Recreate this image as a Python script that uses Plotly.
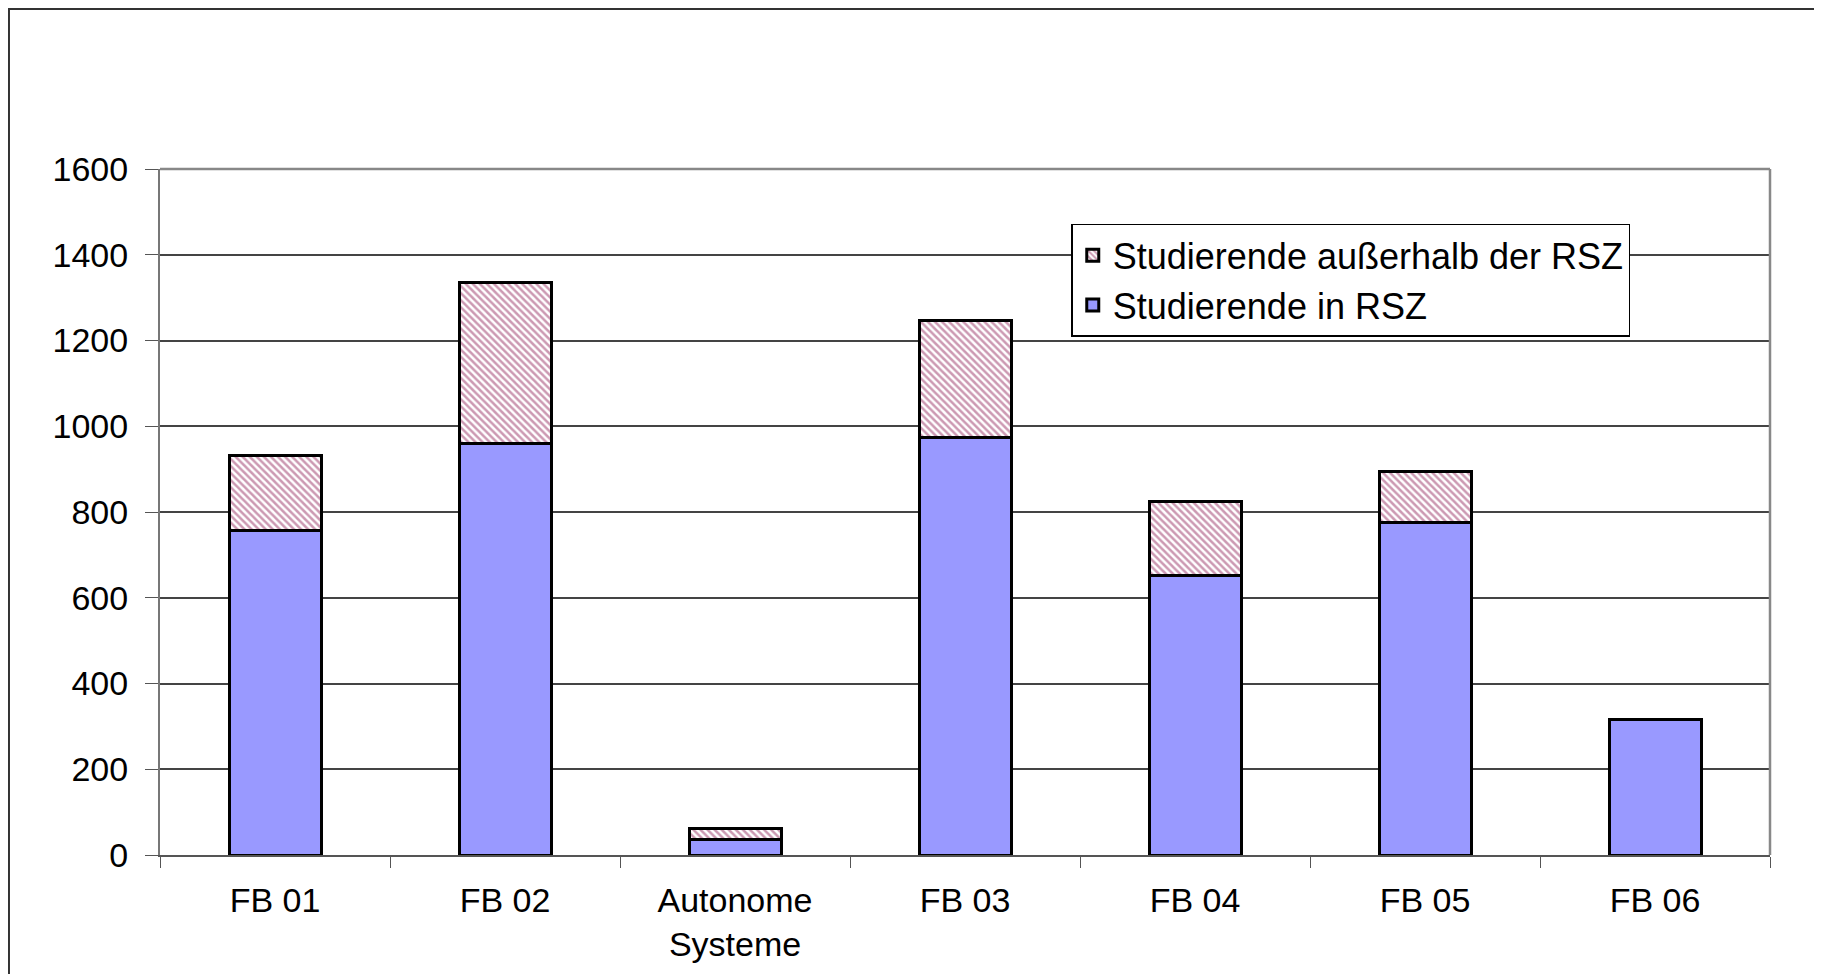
import plotly.graph_objects as go

categories = ["FB 01", "FB 02", "Autonome<br>Systeme", "FB 03", "FB 04", "FB 05", "FB 06"]
in_rsz = [758, 960, 35, 973, 651, 775, 316]
outside_rsz = [173, 376, 26, 274, 173, 120, 0]

y_ticks = [0, 200, 400, 600, 800, 1000, 1200, 1400, 1600]

fig = go.Figure()

fig.add_trace(go.Bar(
    x=categories, y=in_rsz,
    name="Studierende in RSZ",
    marker=dict(color="#9999FF", line=dict(color="black", width=3)),
))
fig.add_trace(go.Bar(
    x=categories, y=outside_rsz,
    name="Studierende au\u00dferhalb der RSZ",
    marker=dict(
        color="white",
        line=dict(color="black", width=3),
        pattern=dict(shape="\\", fgcolor="#993366", bgcolor="white", size=5, solidity=0.5),
    ),
))

# the page body adds 8px on the left and top, margins are set with that in mind
fig.update_layout(
    width=1822, height=974,
    barmode="stack", bargap=0.6,
    plot_bgcolor="white", paper_bgcolor="white",
    margin=dict(l=152, r=60, t=161, b=127),
    font=dict(family="Liberation Sans, Arial, sans-serif", color="black", size=34),
    legend=dict(
        x=0.566, y=0.92, xanchor="left", yanchor="top",
        traceorder="reversed",
        bgcolor="white", bordercolor="black", borderwidth=1.5,
        font=dict(size=36),
        tracegroupgap=0,
    ),
    showlegend=True,
)

fig.update_yaxes(
    range=[0, 1600], tickvals=y_ticks,
    showgrid=True, gridcolor="#444444", gridwidth=1.5,
    showline=True, linecolor="#777777", linewidth=2,
    ticks="outside", ticklen=13, tickcolor="#555555",
    ticklabelstandoff=10,
    tickfont=dict(size=34),
    zeroline=False,
)
fig.update_xaxes(
    showline=True, linecolor="#555555", linewidth=2,
    ticks="outside", tickson="boundaries", ticklen=11, tickcolor="#555555",
    tickfont=dict(size=34),
    ticklabelstandoff=14,
)

# grey frame on the top and right of the plot area
fig.add_shape(type="line", xref="paper", yref="paper", x0=0, x1=1, y0=1, y1=1,
              line=dict(color="#888888", width=2.5))
fig.add_shape(type="line", xref="paper", yref="paper", x0=1, x1=1, y0=0, y1=1,
              line=dict(color="#888888", width=2.5))

# outer chart border (left and top edge visible)
fig.add_shape(type="line", xref="paper", yref="paper", x0=-0.0944, x1=1.1, y0=1.2332, y1=1.2332,
              line=dict(color="#333333", width=2))
fig.add_shape(type="line", xref="paper", yref="paper", x0=-0.0938, x1=-0.0938, y0=-0.3, y1=1.2332,
              line=dict(color="#333333", width=2))

fig.write_html("out.html")
